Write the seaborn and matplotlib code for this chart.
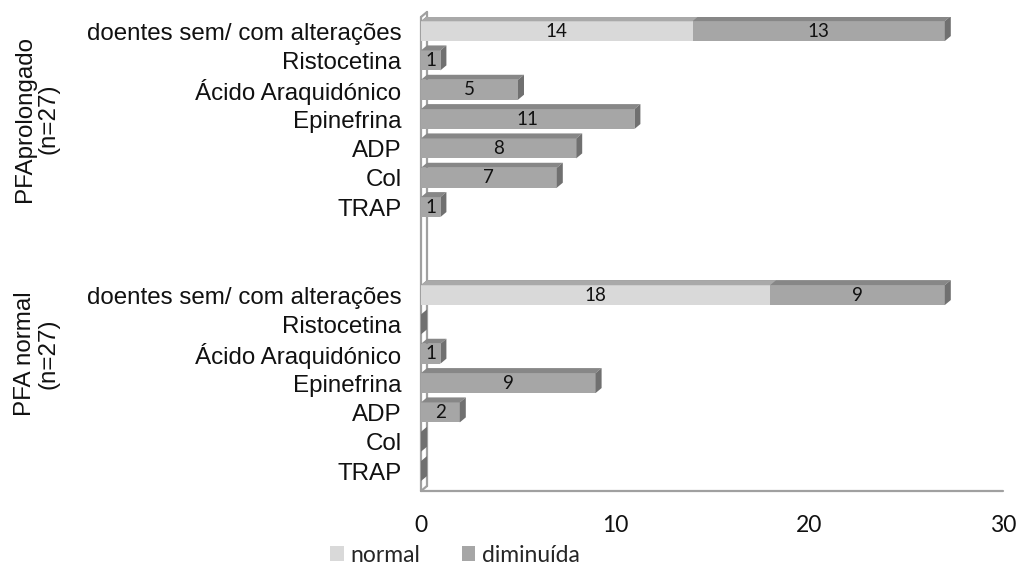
import numpy as np
import pandas as pd
import seaborn as sns
import matplotlib.pyplot as plt
import matplotlib.transforms as mtransforms
from matplotlib.patches import Polygon, Patch

# ---------------- data ----------------
groups = ["PFAprolongado\n(n=27)", "PFA normal\n(n=27)"]
categories = ["doentes sem/ com alterações", "Ristocetina", "Ácido Araquidónico",
              "Epinefrina", "ADP", "Col", "TRAP"]
normal_prolongado = [14, 0, 0, 0, 0, 0, 0]
diminuida_prolongado = [13, 1, 5, 11, 8, 7, 1]
normal_normal = [18, 0, 0, 0, 0, 0, 0]
diminuida_normal = [9, 0, 1, 9, 2, 0, 0]
series_names = ["normal", "diminuída"]
x_ticks = [0, 10, 20, 30]

# ---------------- build table ----------------
gap = 2
rows = []
for g, (nv, dv) in enumerate([(normal_prolongado, diminuida_prolongado),
                              (normal_normal, diminuida_normal)]):
    for i, cat in enumerate(categories):
        rows.append(dict(group=groups[g], category=cat,
                         pos=g * (len(categories) + gap) + i,
                         normal=nv[i], diminuida=dv[i],
                         total=nv[i] + dv[i]))
df = pd.DataFrame(rows)

c_norm = "#D9D9D9"
c_norm_top = "#A9A9A9"
c_dim = "#A6A6A6"
c_dim_top = "#878787"
c_dim_side = "#707070"
c_wall = "#A0A0A0"

sns.set_theme(style="white")
ARIAL = ["Liberation Sans", "DejaVu Sans"]
CALIBRI = ["Lato", "DejaVu Sans"]
plt.rcParams["font.family"] = ARIAL

W, H = 1019, 572
fig = plt.figure(figsize=(W / 100, H / 100), dpi=100)
ax_left, ax_right, ax_top, ax_bot = 421, 1003, 17, 491
ax = fig.add_axes([ax_left / W, 1 - ax_bot / H, (ax_right - ax_left) / W, (ax_bot - ax_top) / H])

bar_h = 0.68
sns.barplot(data=df, x="total", y="pos", orient="h", native_scale=True,
            color=c_dim, saturation=1, width=bar_h, errorbar=None, ax=ax,
            linewidth=0)
n_tot = len(ax.patches)
sns.barplot(data=df, x="normal", y="pos", orient="h", native_scale=True,
            color=c_norm, saturation=1, width=bar_h, errorbar=None, ax=ax,
            linewidth=0)

xmax = 30
ymin, ymax = -0.48, df["pos"].max() + 0.68
ax.set_xlim(0, xmax)
ax.set_ylim(ymax, ymin)

# depth of 3D effect (pixels -> data)
px_x = (ax_right - ax_left) / xmax
px_y = (ax_bot - ax_top) / (ymax - ymin)
dx = 6 / px_x
dy = 5 / px_y

tot_patches = ax.patches[:n_tot]
norm_patches = ax.patches[n_tot:]
for p in tot_patches:
    x0, y0, w, h = p.get_x(), p.get_y(), p.get_width(), p.get_height()
    top = Polygon([(x0, y0), (x0 + w, y0), (x0 + w + dx, y0 - dy), (x0 + dx, y0 - dy)],
                  closed=True, facecolor=c_dim_top, edgecolor="none", zorder=p.get_zorder())
    side = Polygon([(x0 + w, y0), (x0 + w + dx, y0 - dy), (x0 + w + dx, y0 + h - dy), (x0 + w, y0 + h)],
                   closed=True, facecolor=c_dim_side, edgecolor="none", zorder=p.get_zorder())
    ax.add_patch(top)
    ax.add_patch(side)
for p in norm_patches:
    x0, y0, w, h = p.get_x(), p.get_y(), p.get_width(), p.get_height()
    if w <= 0:
        continue
    top = Polygon([(x0, y0), (x0 + w, y0), (x0 + w + dx, y0 - dy), (x0 + dx, y0 - dy)],
                  closed=True, facecolor=c_norm_top, edgecolor="none", zorder=p.get_zorder() + 0.1)
    ax.add_patch(top)

# value labels
for _, r in df.iterrows():
    if r["normal"] > 0:
        ax.text(r["normal"] / 2, r["pos"], f"{r['normal']}", ha="center", va="center",
                fontsize=13.5, family=CALIBRI, color="#111111", zorder=5)
    if r["diminuida"] > 0:
        ax.text(r["normal"] + r["diminuida"] / 2, r["pos"], f"{r['diminuida']}",
                ha="center", va="center", fontsize=13.5, family=CALIBRI,
                color="#111111", zorder=5)

# wall / floor
for s in ax.spines.values():
    s.set_visible(False)
kw = dict(color=c_wall, lw=1.6, clip_on=False, zorder=0.5)
ax.plot([0, 0], [ymax, ymin], **kw)
ax.plot([0, dx], [ymin, ymin - dy], **kw)
ax.plot([dx, dx], [ymin - dy, ymax - dy], **kw)
ax.plot([0, xmax], [ymax, ymax], **kw)
ax.plot([0, dx], [ymax, ymax - dy], **kw)

# ticks
ax.set_yticks(df["pos"])
ax.set_yticklabels(df["category"], fontsize=17.4, color="#111111", family=ARIAL)
ax.tick_params(axis="y", length=0, pad=14)
ax.set_xticks(x_ticks)
ax.set_xticklabels([str(t) for t in x_ticks], fontsize=16.5, family=CALIBRI, color="#111111")
ax.tick_params(axis="x", length=0, pad=17)
ax.set_xlabel("")
ax.set_ylabel("")

# group labels (group span includes the blank separator rows before it)
trans = mtransforms.blended_transform_factory(fig.transFigure, ax.transData)
for gi, g in enumerate(groups):
    p = df.loc[df["group"] == g, "pos"]
    start = p.min() - (gap if gi > 0 else 0)
    ypos = (start + p.max()) / 2
    ax.text(37 / W, ypos, g, transform=trans, rotation=90, ha="center", va="center",
            multialignment="center", fontsize=17.4, color="#111111", linespacing=1.1,
            family=ARIAL)

# legend
handles = [Patch(facecolor=c_norm, edgecolor="none"), Patch(facecolor=c_dim, edgecolor="none")]
fig.legend(handles, series_names, loc="center", bbox_to_anchor=(455 / W, 1 - 555 / H),
           ncol=2, frameon=False, handlelength=0.6, handleheight=0.6, handletextpad=0.3,
           columnspacing=1.8, prop={"family": CALIBRI, "size": 16.5})

fig.savefig("out.png", dpi=100)
